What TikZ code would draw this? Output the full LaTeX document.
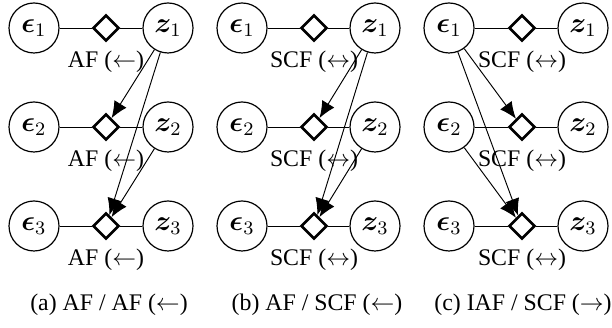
\documentclass[tikz,border=0pt]{standalone}
\usepackage{fontspec}
\setmainfont{Liberation Serif}
\usepackage{amsmath}
\usepackage{bm}
\usetikzlibrary{shapes.geometric,arrows.meta}

\begin{document}
\begin{tikzpicture}[x=0.42pt, y=-0.42pt,
		var/.style={circle, draw, line width=0.5pt, minimum size=21pt, inner sep=0pt, font=\large},
		fac/.style={diamond, draw, line width=1.1pt, minimum size=11pt, inner sep=0pt},
		flow/.style={-{Latex[length=7pt,width=6pt]}, line width=0.4pt},
		lbl/.style={inner sep=0pt}]
			\useasboundingbox (0,0) rectangle (612,328);
			
			% (a) AF / AF
			\node[var](e1a) at (34,28) {$\boldsymbol{\epsilon}_1$};
			\node[var](e2a) at (34,127) {$\boldsymbol{\epsilon}_2$};
			\node[var](e3a) at (34,226) {$\boldsymbol{\epsilon}_3$};
			\node[fac](f1a) at (106,28) {};
			\node[fac](f2a) at (106,127) {};
			\node[fac](f3a) at (106,226) {};
			\node[var](z1a) at (168,28) {$\boldsymbol{z}_1$};
			\node[var](z2a) at (168,127) {$\boldsymbol{z}_2$};
			\node[var](z3a) at (168,226) {$\boldsymbol{z}_3$};
			\node[lbl](l1a) at (106,62) {AF ($\leftarrow$)};
			\node[lbl](l2a) at (106,161) {AF ($\leftarrow$)};
			\node[lbl](l3a) at (106,260) {AF ($\leftarrow$)};
			
			% (b) AF / SCF
			\node[var](e1b) at (242,28) {$\boldsymbol{\epsilon}_1$};
			\node[var](e2b) at (242,127) {$\boldsymbol{\epsilon}_2$};
			\node[var](e3b) at (242,226) {$\boldsymbol{\epsilon}_3$};
			\node[fac](f1b) at (314,28) {};
			\node[fac](f2b) at (314,127) {};
			\node[fac](f3b) at (314,226) {};
			\node[var](z1b) at (375,28) {$\boldsymbol{z}_1$};
			\node[var](z2b) at (375,127) {$\boldsymbol{z}_2$};
			\node[var](z3b) at (375,226) {$\boldsymbol{z}_3$};
			\node[lbl](l1b) at (314,62) {SCF ($\leftrightarrow$)};
			\node[lbl](l2b) at (314,161) {SCF ($\leftrightarrow$)};
			\node[lbl](l3b) at (314,260) {SCF ($\leftrightarrow$)};
			
			% (c) IAF / SCF
			\node[var](e1c) at (449,28) {$\boldsymbol{\epsilon}_1$};
			\node[var](e2c) at (449,127) {$\boldsymbol{\epsilon}_2$};
			\node[var](e3c) at (449,226) {$\boldsymbol{\epsilon}_3$};
			\node[fac](f1c) at (522,28) {};
			\node[fac](f2c) at (522,127) {};
			\node[fac](f3c) at (522,226) {};
			\node[var](z1c) at (583,28) {$\boldsymbol{z}_1$};
			\node[var](z2c) at (583,127) {$\boldsymbol{z}_2$};
			\node[var](z3c) at (583,226) {$\boldsymbol{z}_3$};
			\node[lbl](l1c) at (522,62) {SCF ($\leftrightarrow$)};
			\node[lbl](l2c) at (522,161) {SCF ($\leftrightarrow$)};
			\node[lbl](l3c) at (522,260) {SCF ($\leftrightarrow$)};
			
			% captions
			\node(capa) at (109,305) {(a) AF / AF ($\leftarrow$)};
			\node(capb) at (317,305) {(b) AF / SCF ($\leftarrow$)};
			\node(capc) at (523,305) {(c) IAF / SCF ($\rightarrow$)};
			
			\draw (e1a) -- (f1a) -- (z1a);
			\draw (e2a) -- (f2a) -- (z2a);
			\draw (e3a) -- (f3a) -- (z3a);
			\draw (e1b) -- (f1b) -- (z1b);
			\draw (e2b) -- (f2b) -- (z2b);
			\draw (e3b) -- (f3b) -- (z3b);
			\draw (e1c) -- (f1c) -- (z1c);
			\draw (e2c) -- (f2c) -- (z2c);
			\draw (e3c) -- (f3c) -- (z3c);
			
			\draw[flow] (z1a) -- (f2a);
			\draw[flow] (z1a) -- (f3a);
			\draw[flow] (z2a) -- (f3a);
			\draw[flow] (z1b) -- (f2b);
			\draw[flow] (z1b) -- (f3b);
			\draw[flow] (z2b) -- (f3b);
			\draw[flow] (e1c) -- (f2c);
			\draw[flow] (e1c) -- (f3c);
			\draw[flow] (e2c) -- (f3c);
		\end{tikzpicture}
\end{document}
